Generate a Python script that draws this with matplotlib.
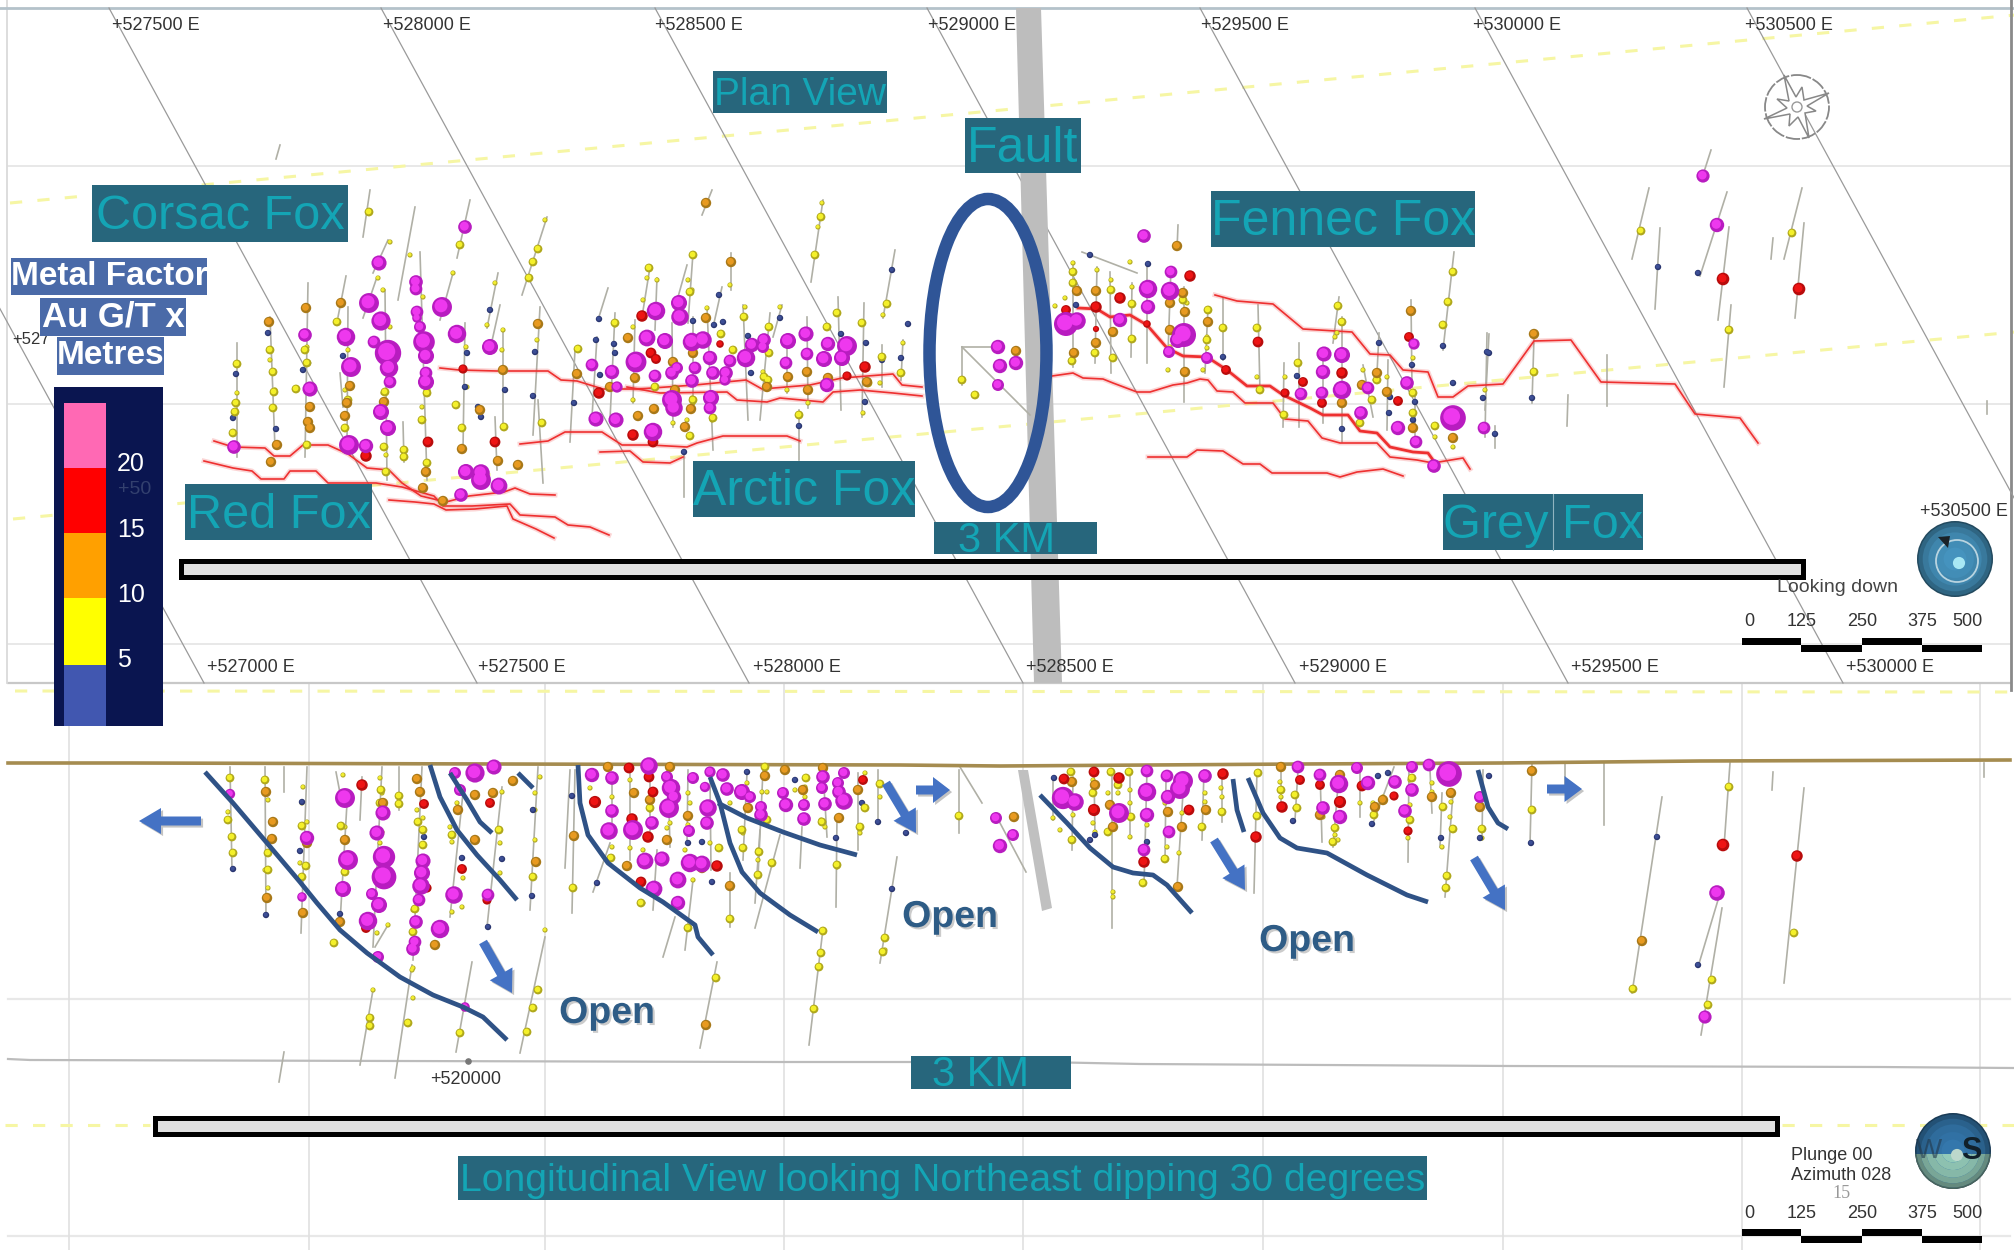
import numpy as np
import matplotlib
matplotlib.use('Agg')
import matplotlib.pyplot as plt
from matplotlib.patches import Rectangle, Ellipse, Polygon, Circle, FancyArrow
import matplotlib.patheffects as pe

plt.rcParams['font.family'] = ['Liberation Sans', 'DejaVu Sans']

# everything in pixels (x to the right, y down)
TEAL_BOX = '#27667c'
TEAL_TXT = '#14a5b5'
CURVE = '#2f5286'
ARROW = '#4472c4'
RED_LINE = '#ee3030'

# --- grid ---
plan_grid_y = [166, 404, 644]
long_grid_y = [999, 1236]
long_grid_x = [69, 309, 545, 784, 1023, 1263, 1503, 1742, 1980]
easting_bottom_x = [-68, 204, 477, 749, 1023, 1295, 1568, 1843, 2115]

top_labels = ['+527500 E', '+528000 E', '+528500 E', '+529000 E', '+529500 E', '+530000 E', '+530500 E']
top_labels_x = [112, 383, 655, 928, 1201, 1473, 1745]
mid_labels = ['+527000 E', '+527500 E', '+528000 E', '+528500 E', '+529000 E', '+529500 E', '+530000 E']
mid_labels_x = [207, 478, 753, 1026, 1299, 1571, 1846]

# --- legend ---
legend_edges = [403, 468, 533, 598, 665, 726]
legend_colors = ['#ff69b4', '#ff0000', '#ffa000', '#ffff00', '#4157b0']
legend_ticks = ['20', '15', '10', '5']
legend_ticks_y = [464, 530, 595, 660]

# --- structures in plan ---
red_lines_west = [
    [(214,441),(233,447),(265,448),(274,456),(290,456),(303,445),(328,445),(348,454),(367,468),(389,470),(402,483),(421,496),(446,502),(469,496),(504,492),(515,488),(530,494),(555,495)],
    [(204,461),(233,468),(252,471),(261,479),(284,479),(290,471),(316,471),(328,483),(376,483),(402,487),(434,496),(443,506),(472,506),(510,504),(520,515),(555,517),(568,525),(590,527),(609,535)],
    [(389,500),(415,502),(434,504),(446,510),(475,509),(507,506),(513,519),(536,529),(554,538)],
    [(440,368),(459,370),(497,371),(548,371),(561,380),(577,381),(603,389),(638,389),(695,385),(746,380),(762,389),(810,385),(842,378),(893,374),(902,385),(922,387)],
    [(627,387),(660,393),(727,392),(737,400),(767,402),(780,398),(823,402),(833,392),(860,390),(893,393),(922,396)],
    [(520,444),(548,441),(565,432),(602,432),(622,445),(650,445),(687,447),(697,443),(723,436),(767,436),(787,436),(800,441)],
    [(600,452),(630,451),(643,462),(670,463),(683,457)],
]
red_lines_east = [
    [(1052,376),(1073,373),(1083,378),(1103,379),(1113,383),(1137,392),(1150,392),(1173,385),(1187,383),(1200,379),(1208,380),(1217,391),(1233,392),(1245,403),(1273,403),(1285,419),(1308,421),(1322,438),(1340,443),(1377,443),(1390,457),(1417,460),(1433,463),(1463,458),(1470,469)],
    [(1215,295),(1237,301),(1273,304),(1303,329),(1352,332),(1370,354),(1390,355),(1403,370),(1428,372),(1438,397),(1453,397),(1468,386),(1503,384),(1534,341),(1571,340),(1601,382),(1675,384),(1695,414),(1740,418),(1758,443)],
    [(1148,457),(1187,457),(1197,450),(1223,451),(1243,464),(1260,464),(1272,473),(1327,473),(1340,477),(1357,472),(1383,469),(1403,476)],
]
red_line_thick = [(1078,308),(1097,309),(1110,317),(1130,315),(1147,325),(1167,348),(1183,356),(1207,357),(1227,370),(1247,386),(1270,386),(1283,395),(1310,408),(1323,415),(1348,415),(1360,431),(1377,433),(1390,447),(1413,452),(1428,453),(1433,460)]

plan_holes = [
    (237,343,237,457),(270,317,275,448),(308,283,305,457),(346,276,338,317),(348,307,347,443),(377,277,363,318),
    (388,240,373,273),(385,290,387,480),(415,207,398,300),(420,252,427,480),(470,200,457,258),(453,273,440,320),
    (465,323,463,450),(498,273,487,328),(500,305,490,350),(503,330,503,430),(547,217,522,295),(540,307,533,435),
    (370,190,363,237),(403,422,404,462),(495,417,497,470),(538,400,543,483),(340,373,343,407),(280,145,276,159),
    (608,288,598,320),(597,337,592,417),(615,313,610,420),(575,350,570,442),(650,267,642,317),(657,278,655,330),
    (635,320,633,403),(687,265,678,297),(693,253,688,323),(672,323,673,427),(693,317,693,403),(707,307,713,450),
    (722,287,714,323),(731,253,731,290),(712,190,702,215),(823,200,811,282),(782,305,773,337),(743,305,748,420),
    (770,313,760,420),(787,337,787,393),(807,317,808,408),(838,297,841,410),(864,303,862,417),(895,250,883,318),
    (882,345,882,387),(903,340,901,380),(684,450,684,497),(799,410,799,460),
    (962,347,995,347),(962,347,962,385),(962,347,1030,415),
    (1073,265,1073,367),(1097,267,1095,363),(1110,272,1111,373),(1132,283,1131,357),(1082,252,1137,273),
    (1147,263,1147,363),(1171,267,1168,353),(1178,225,1177,250),(1184,287,1184,402),(1208,307,1205,373),
    (1223,298,1223,360),(1258,305,1260,393),(1284,363,1283,427),(1299,343,1299,427),(1323,348,1323,423),
    (1339,297,1333,343),(1342,317,1342,442),(1363,365,1373,417),(1379,333,1377,373),(1388,360,1387,430),
    (1411,300,1412,387),(1454,252,1443,350),(1415,390,1415,447),(1487,333,1485,437),(1649,188,1632,259),
    (1660,228,1655,309),(1727,192,1700,276),(1729,227,1718,320),(1731,305,1724,387),(1802,188,1784,259),
    (1804,223,1795,318),(1773,238,1771,259),(1711,150,1703,175),(1534,337,1532,403),(1489,334,1485,410),
    (1495,426,1495,448),(1568,395,1567,426),(1607,355,1607,406),(1987,401,1987,414),
]

# --- intercepts in plan: (x, y, radius) ---
plan_magenta = [
    (465,227,5.7),(379,263,6.3),(416,282,5.7),(416,289,5.3),(369,303,8.3),(442,307,8.3),(417,312,5.3),(417,318,4),(381,321,8),(420,327,5),
    (346,337,7.7),(305,335,5.7),(457,334,7.7),(424,342,9),(374,342,5.3),(388,353,11),(490,347,6.7),(426,356,6.7),(389,368,7.7),(351,367,8.3),
    (426,373,5.3),(426,382,6.7),(390,382,5.3),(310,389,6.3),(381,412,6.7),(388,428,6.7),(234,447,5.7),(349,445,8.3),(366,446,6),(466,472,6.7),
    (481,480,8.3),(481,473,7.3),(499,486,7),(461,495,5.7),
    (656,311,7.7),(679,303,6.7),(680,317,7.3),(647,338,7),(665,341,6.7),(692,342,7.7),(703,340,7.3),(636,362,8.7),(592,365,5.3),(612,372,6),
    (617,387,4.7),(655,376,5.3),(672,373,5.7),(677,368,5),(695,368,5.3),(692,381,5.7),(710,358,6),(713,373,5.7),(730,361,5.3),(726,373,5.7),
    (746,358,7.7),(752,345,6),(764,340,5.7),(763,347,5),(788,341,6.7),(806,334,6.3),(807,354,5.3),(786,363,5.3),(824,359,6.7),(828,344,6),
    (842,358,6.7),(847,346,8.3),(827,385,6),(596,419,6.3),(616,420,6.3),(672,400,8.3),(674,408,7.3),(711,398,6.7),(710,408,5.3),(653,432,7.7),(725,380,4.7),
    (998,347,6),(1000,366,6),(1016,363,6),(998,385,5),
    (1144,236,5.7),(1148,289,7.7),(1148,307,6),(1171,272,5.3),(1170,291,7.7),(1066,324,10),(1077,321,7.3),(1120,320,6),(1184,335,10),(1178,340,6.7),
    (1169,352,5),(1207,358,5),(1324,354,6.3),(1342,355,6.7),(1323,372,6),(1322,393,5.3),(1342,390,7.7),(1368,388,5.3),(1361,413,5.7),(1414,344,4.7),
    (1407,383,5.7),(1453,418,10.7),(1398,428,6),(1416,442,5.3),(1484,428,5.3),(1434,466,5.7),(1301,394,5.3),(1703,176,5.5),(1717,225,6),
]
plan_red = [
    (366,456,5),(428,442,4.7),(495,442,4.7),(463,369,4),
    (642,316,5),(651,353,4.7),(656,359,4.3),(599,393,5),(633,435,5),(653,442,4.7),(865,367,5),(720,344,3.3),(847,376,4),
    (1190,276,5),(1120,298,5),(1096,307,5),(1066,310,4.3),(1258,342,4.7),(1303,382,4.3),(1342,373,5),(1322,403,4.3),(1398,401,4.3),(1409,337,4.3),
    (1285,393,4),(1226,370,4.3),(1147,324,3.3),(1096,329,2.7),(1723,279,5.5),(1799,289,5.5),
]
plan_orange = [
    (306,308),(341,303),(269,322),(538,324),(350,386),(308,422),(310,428),(345,416),(277,445),(271,462),(462,449),(498,461),(518,465),(423,488),
    (443,501),(426,472),(503,370),(384,402),(480,410),(310,407),(347,403),
    (706,203),(731,262),(628,338),(706,318),(638,416),(654,409),(691,409),(577,374),(635,378),(673,362),(693,353),(807,372),(788,377),(808,390),
    (767,387),(685,427),(828,378),(867,382),(675,390),(610,387),(1016,351),
    (1177,246),(1077,291),(1096,291),(1170,303),(1183,293),(1185,312),(1170,330),(1113,332),(1096,343),(1074,353),(1185,372),(1208,322),(1411,311),
    (1377,373),(1387,392),(1413,428),(1453,438),(1342,403),(1362,385),(1534,334),
]
plan_yellow = [
    (369,212),(237,364),(236,403),(235,412),(233,433),(270,350),(273,372),(274,392),(273,408),(305,350),(307,363),(296,389),(337,322),(348,400),
    (345,428),(460,245),(538,249),(533,262),(529,278),(456,405),(462,428),(422,420),(504,427),(384,447),(404,450),(404,457),(386,472),(427,463),
    (385,392),(427,393),(542,423),(307,445),
    (821,217),(815,255),(837,313),(862,323),(882,357),(901,373),(887,304),(713,418),(693,400),(690,436),(655,387),(764,377),(768,380),(799,415),
    (744,317),(769,327),(827,327),(578,349),(721,334),(733,350),(769,353),(868,383),(649,268),(693,255),(690,292),(615,323),(962,380),(975,395),
    (1073,272),(1073,283),(1111,290),(1132,304),(1132,339),(1183,300),(1208,310),(1223,328),(1207,340),(1113,358),(1072,361),(1095,353),(1257,328),
    (1298,363),(1260,390),(1284,415),(1338,306),(1342,322),(1453,272),(1448,302),(1443,325),(1435,426),(1360,423),(1413,393),(1413,413),(1372,400),
    (1377,380),(1641,231),(1792,233),(1729,330),(1534,372),
]
plan_small = [
    (237,393),(234,403),(270,360),(275,390),(307,347),(348,350),(350,388),(345,390),(383,393),(386,455),(428,390),(422,407),(466,347),(467,387),
    (425,473),(427,465),(502,350),(537,340),(453,273),(410,255),(423,297),(390,242),(378,278),(383,290),(390,327),(495,283),(487,325),(503,330),(545,220),
    (647,278),(657,280),(643,300),(633,327),(615,325),(692,290),(688,280),(707,308),(730,285),(818,227),(822,203),(883,315),(903,343),(880,383),
    (780,307),(745,307),(763,372),(766,387),(712,420),(687,420),(692,398),(693,403),(654,387),(633,400),(673,423),(863,413),(808,403),(787,390),
    (1097,270),(1111,280),(1132,287),(1073,263),(1065,298),(1055,306),(1207,337),(1207,348),(1170,347),(1168,370),(1203,370),(1257,377),(1285,377),
    (1337,333),(1338,305),(1335,337),(1363,370),(1375,380),(1387,377),(1413,358),(1435,437),(1453,447),(1485,390),(1360,423),(1112,358),(1130,262),(1187,303),
]
plan_blue = [
    (236,374),(268,333),(276,429),(308,363),(343,356),(303,370),(490,310),(535,352),(533,396),(505,390),(465,387),(467,353),(478,407),(481,417),(233,418),
    (892,270),(599,319),(596,340),(614,344),(615,353),(600,375),(574,403),(719,295),(780,318),(748,336),(751,373),(841,334),(866,343),(882,360),
    (901,358),(908,324),(865,402),(799,426),(684,452),(723,322),(693,321),(714,325),
    (1090,255),(1148,264),(1076,305),(1223,357),(1297,376),(1379,343),(1412,365),(1443,346),(1487,352),(1453,383),(1483,398),(1342,429),(1390,397),
    (1389,413),(1413,420),(1415,402),(1658,267),(1698,273),(1532,398),(1489,353),(1495,434),
]

# --- longitudinal view ---
surface_x = [8, 130, 500, 900, 1000, 1300, 1500, 1700, 2010]
surface_y = [763, 763, 764, 765, 766, 764, 763, 761, 760]
lower_edge_x = [8, 30, 400, 780, 1040, 1140, 1510, 1880, 2013]
lower_edge_y = [1059, 1060, 1061, 1062, 1062, 1064, 1066, 1067, 1068]

long_holes = [
    (230,767,232,870),(265,767,266,917),(284,767,284,792),(307,767,301,933),(336,772,340,793),(347,803,340,923),(362,777,360,820),(382,767,373,947),
    (388,925,375,947),(399,767,399,810),(422,767,413,960),(373,990,360,1065),(412,965,395,1078),(472,962,456,1052),(463,793,450,917),(502,787,487,927),
    (538,767,530,910),(545,937,520,1053),(284,1052,279,1082),(717,962,700,1048),(823,929,809,1045),
    (570,770,565,868),(575,770,572,913),(610,843,593,892),(630,770,630,860),(657,850,653,910),(675,917,663,957),(693,880,685,950),(730,873,730,927),
    (780,835,755,928),(760,830,755,903),(802,827,800,868),(837,817,836,907),(897,857,880,963),(878,770,878,823),(710,777,711,870),(668,773,670,847),
    (688,770,687,843),(747,773,743,860),(763,770,758,877),(823,770,827,837),(858,773,858,850),(612,777,612,827),(650,770,650,833),
    (960,767,982,803),(959,770,959,833),(1000,823,1026,872),
    (1053,777,1053,820),(1073,777,1072,850),(1094,770,1095,837),(1112,770,1112,928),(1130,770,1130,838),(1147,770,1144,885),(1166,780,1165,860),
    (1183,793,1177,887),(1204,770,1202,840),(1222,770,1222,822),(1257,770,1254,893),(1281,770,1281,807),(1298,770,1295,820),(1320,770,1322,842),
    (1339,773,1333,847),(1360,770,1360,817),(1394,767,1373,823),(1409,767,1408,862),(1430,770,1432,813),(1442,793,1440,847),(1453,793,1445,897),
    (1483,770,1482,840),(1730,763,1724,847),(1718,900,1698,967),(1722,908,1701,1035),(1662,797,1632,993),(1804,788,1784,983),(1773,772,1772,790),
    (1565,763,1565,788),(1604,763,1604,825),(1532,763,1530,845),(1984,763,1984,777),
]
long_magenta = [
    (230,794,4.3),(345,798,8.3),(383,813,6.3),(377,833,6.3),(307,838,6),(348,860,8.3),(384,857,9.3),(384,877,10.3),(343,889,6.7),(372,894,5),
    (379,905,6.7),(368,921,7.7),(423,861,6.3),(422,873,6.7),(421,886,7.3),(419,900,5.3),(416,922,5.7),(415,942,5.3),(413,949,5.7),(440,929,7.7),
    (454,895,7.3),(488,895,5.3),(475,773,8),(494,767,6.3),(455,773,5),(460,790,5),(378,957,5),(465,1007,4),(302,897,4),
    (592,775,6),(612,778,5.7),(649,766,7.3),(667,777,5),(671,788,7.7),(674,797,6),(669,808,8.3),(693,778,5),(705,787,4.3),(710,772,4.7),(723,775,5.7),
    (727,789,5.7),(708,808,7.3),(707,823,5.7),(612,811,5.7),(609,831,7.3),(633,830,8.3),(652,823,5.7),(689,831,5),(645,861,7),(662,859,6.3),(690,863,7.7),
    (702,864,7),(678,880,7),(654,889,7),(678,903,6),(742,792,6.7),(750,797,5),(761,807,5),(761,815,5.7),(783,793,5),(786,805,6),(804,805,5),(804,819,5.7),
    (823,777,5.7),(822,788,5),(825,804,5.7),(838,783,5),(839,792,5.7),(844,801,7.3),(844,773,5),
    (1000,846,6),(1013,835,5),(996,818,5),
    (1063,798,9.3),(1075,802,7.3),(1119,813,8.3),(1147,792,7.7),(1147,815,6),(1147,771,5.3),(1167,776,5.3),(1183,781,8.3),(1180,789,8.3),(1168,797,6),
    (1169,832,5.3),(1205,776,5.7),(1144,850,5.3),(1298,767,5.3),(1320,775,5.3),(1339,784,7.7),(1323,808,5.7),(1340,817,6),(1368,783,6),(1357,768,5),
    (1395,782,5.7),(1405,811,5.7),(1412,767,5),(1429,765,5.3),(1449,774,10.7),(1412,790,5.7),(1480,797,5),(1717,893,6.5),(1705,1017,5.5),
]
long_red = [
    (362,785,5),(424,804,4.3),(490,803,4.3),(462,869,4.3),(383,857,6),(385,865,3.3),(366,928,4.3),(427,888,4),(418,900,4),(487,900,4),
    (629,768,4.7),(649,777,4.7),(595,802,5.3),(653,792,4.7),(632,819,5),(648,837,5),(717,866,5),(641,882,4.7),(863,780,4.3),
    (1064,779,4.7),(1094,772,4.7),(1119,778,5),(1094,810,5.3),(1189,810,4.7),(1144,862,5),(1223,774,5),(1256,837,5),(1282,807,5),(1300,780,4.3),
    (1320,785,4.3),(1340,802,5.3),(1362,786,4.7),(1394,796,4),(1408,831,4),(1723,845,5.5),(1797,856,5),
]
long_orange = [
    (266,792),(273,822),(272,839),(307,843),(267,898),(303,913),(340,922),(345,840),(383,803),(417,779),(420,792),(475,840),(475,795),(493,793),
    (513,781),(458,810),(536,862),(435,945),
    (574,836),(730,886),(627,866),(706,1025),(634,793),(667,840),(688,816),(785,770),(650,800),(748,808),(803,790),(858,790),(839,818),(702,868),
    (765,776),(823,768),(608,767),(670,767),(1014,817),
    (1072,782),(1095,785),(1110,805),(1168,812),(1182,827),(1206,810),(1178,887),(1281,767),(1340,775),(1320,815),(1375,807),(1383,800),(1432,797),
    (1451,793),(1480,807),(1113,827),(1642,941),(1532,771),
]
long_yellow = [
    (230,778),(228,820),(232,837),(233,853),(265,780),(268,853),(268,870),(302,826),(306,866),(302,877),(334,943),(341,826),(345,872),(381,790),
    (399,796),(399,804),(418,822),(423,830),(423,845),(452,835),(499,830),(533,877),(415,909),(413,932),(370,1018),(370,1026),(460,1033),(538,990),
    (533,1008),(527,1032),(408,1023),(380,803),
    (611,858),(719,848),(743,848),(821,953),(814,1009),(823,931),(880,784),(865,808),(860,827),(742,830),(759,852),(822,822),(767,820),(765,767),
    (806,778),(650,808),(641,903),(688,928),(885,938),(573,888),(730,919),(758,875),(772,863),(716,978),(819,967),(837,865),(883,952),(959,816),
    (1071,772),(1072,840),(1111,772),(1129,772),(1118,785),(1108,832),(1131,817),(1165,859),(1202,827),(1222,812),(1258,773),(1257,816),(1281,790),
    (1297,808),(1295,795),(1335,828),(1333,842),(1374,815),(1410,820),(1443,807),(1453,829),(1482,829),(1447,876),(1446,888),(1412,778),(1143,883),
    (1093,793),(1633,989),(1794,933),(1729,787),(1708,1005),(1712,980),(1532,810),
]
long_small = [
    (228,812),(268,800),(268,870),(268,888),(265,870),(303,787),(302,803),(307,822),(300,863),(343,775),(342,857),(345,827),(380,778),(382,793),
    (382,832),(380,843),(417,810),(420,793),(423,818),(413,910),(413,968),(413,998),(412,970),(373,990),(452,842),(452,912),(462,907),(463,878),
    (457,803),(500,843),(502,792),(500,873),(535,793),(535,810),(540,777),(535,840),(545,930),(450,827),(377,933),(388,925),(363,920),
    (590,788),(612,797),(630,848),(630,780),(650,810),(650,800),(667,828),(670,823),(688,793),(690,803),(688,825),(685,850),(693,880),(710,843),
    (730,803),(747,783),(748,793),(743,833),(758,850),(758,860),(758,875),(767,792),(762,792),(767,818),(795,790),(805,787),(805,797),(821,820),
    (825,827),(837,867),(860,827),(860,833),(865,773),(880,797),(715,978),(885,950),(688,833),(612,847),(643,903),(643,850),
    (1053,818),(1060,830),(1072,780),(1073,815),(1093,780),(1093,793),(1093,823),(1095,832),(1108,793),(1118,793),(1130,790),(1130,803),(1130,837),
    (1147,825),(1147,842),(1165,803),(1167,847),(1182,813),(1179,853),(1205,793),(1205,802),(1222,797),(1221,788),(1280,782),(1281,797),(1295,808),
    (1335,835),(1338,840),(1323,817),(1360,803),(1373,803),(1383,797),(1410,780),(1410,805),(1408,838),(1432,783),(1432,792),(1451,802),(1450,817),
    (1442,847),(1482,838),(1113,892),(1113,897),(1143,884),
]
long_blue = [
    (233,869),(266,915),(300,851),(340,914),(488,927),(502,859),(462,858),(532,896),(302,802),(424,837),(533,810),
    (572,796),(597,883),(712,882),(892,889),(878,822),(702,842),(747,772),(795,780),(836,838),(862,803),(688,843),(906,833),
    (1054,778),(1293,821),(1372,824),(1388,773),(1378,776),(1441,838),(1489,776),(1090,840),(1095,835),(1480,838),(1147,842),
    (1657,837),(1698,965),(1531,843),
]

open_curves = [
    [(205,772),(233,803),(267,843),(300,882),(317,903),(340,930),(367,953),(400,977),(433,995),(463,1007),(483,1017),(507,1040)],
    [(430,765),(440,797),(457,830),(477,855),(500,880),(517,900)],
    [(450,773),(467,800),(480,822),(492,833)],
    [(518,773),(533,788)],
    [(578,765),(580,803),(588,835),(608,863),(640,888),(663,902),(695,925),(698,937),(713,955)],
    [(710,777),(720,803),(730,843),(742,872),(760,893),(790,915),(818,932)],
    [(718,803),(747,818),(783,832),(820,845),(857,855)],
    [(1040,795),(1067,823),(1090,848),(1113,867),(1133,873),(1153,875),(1167,885),(1192,913)],
    [(1233,779),(1237,810),(1244,832)],
    [(1248,778),(1263,813),(1280,838),(1297,848),(1327,853),(1367,875),(1407,895),(1428,902)],
    [(1478,770),(1488,807),(1498,823),(1508,829)],
]
open_arrows = [
    (201,821,139,821),(916,790,950,790),(483,942,512,993),(886,783,916,833),
    (1214,840,1245,890),(1474,858,1505,910),(1547,789,1582,789),
]
open_labels_x = [607, 950, 1307]
open_labels_y = [1013, 917, 941]

# label, box (x0, x1, y0, y1), font size, text shift from the box centre
teal_labels = [
    ('Corsac Fox', (92, 348, 185, 242), 35, 0),
    ('Red Fox', (185, 372, 484, 540), 35, 0),
    ('Arctic Fox', (693, 915, 461, 517), 36, 0),
    ('Fennec Fox', (1211, 1475, 191, 247), 36, 0),
    ('Grey Fox', (1443, 1643, 494, 550), 35, 0),
    ('Plan View', (713, 887, 71, 113), 28, 0),
    ('Fault', (965, 1081, 118, 173), 36, 0),
    ('3 KM', (934, 1097, 522, 554), 30, -9),
    ('3 KM', (911, 1071, 1056, 1089), 30, -10),
    ('Longitudinal View looking Northeast dipping 30 degrees', (458, 1427, 1156, 1200), 28.2, 0),
]
metal_labels = [
    ('Metal Factor', (11, 207, 258, 295), 24),
    ('Au G/T x', (40, 186, 298, 336), 25),
    ('Metres', (57, 164, 337, 375), 24),
]

scale_ticks = ['0', '125', '250', '375', '500']
scale_ticks_x = [1749, 1802, 1862, 1922, 1967]
scale_edges = [1742, 1801, 1862, 1922, 1982]

rose_big = [(1784,75),(1829,93),(1809,138),(1764,119)]
rose_small = [(1802,87),(1816,111),(1789,126),(1777,99)]
rose_inner = [(1796,97),(1804,100),(1807,106),(1805,113),(1798,117),(1790,114),(1787,108),(1789,101)]


def px(r):
    return r * 0.72


def bubbles(ax, pts, base, light, radius=None, scale=1.0, z=5):
    a = np.array(pts, dtype=float)
    r = (a[:, 2] if radius is None else np.full(len(a), radius)) * scale
    ax.scatter(a[:, 0], a[:, 1], s=(2 * px(r)) ** 2, c=base, linewidths=0, zorder=z)
    ax.scatter(a[:, 0] - r * 0.1, a[:, 1] - r * 0.12, s=(1.3 * px(r)) ** 2, c=light, linewidths=0, zorder=z)


def draw_all_bubbles(ax, magenta, red, orange, yellow, small, blue):
    bubbles(ax, small, '#b4ac28', '#f2ee30', radius=2.6)
    bubbles(ax, blue, '#2a3670', '#3d4f96', radius=3.2)
    bubbles(ax, yellow, '#b0a81c', '#f4f02a', radius=4.4)
    bubbles(ax, orange, '#a87818', '#e89a20', radius=5.2)
    bubbles(ax, red, '#b80c0c', '#ee1414', scale=1.15)
    bubbles(ax, magenta, '#b81cc0', '#ee38ee', scale=1.2)


def ball(ax, cx, cy, r, top, bottom, spot):
    # shaded sphere from concentric discs, the colour picked per half by a clip rectangle
    for frac, mix in zip([1.0, 0.96, 0.85, 0.7, 0.5, 0.3], [0.55, 0.75, 0.9, 1.0, 1.05, 1.1]):
        col_top = np.clip(np.array(matplotlib.colors.to_rgb(top)) * mix, 0, 1)
        col_bot = np.clip(np.array(matplotlib.colors.to_rgb(bottom)) * mix, 0, 1)
        c1 = Circle((cx, cy), r * frac, fc=col_top, ec='none', zorder=8)
        ax.add_patch(c1)
        if bottom != top:
            c2 = Circle((cx, cy), r * frac, fc=col_bot, ec='none', zorder=8)
            ax.add_patch(c2)
            c2.set_clip_path(Rectangle((cx - r, cy + 3), 2 * r, r, transform=ax.transData))
    ax.add_patch(Circle((cx + 4, cy + 4), r * 0.16, fc=spot, ec='none', zorder=8))


fig = plt.figure(figsize=(20.15, 12.5), dpi=100, facecolor='white')
ax = fig.add_axes([0, 0, 1, 1])
ax.set_xlim(0, 2015)
ax.set_ylim(1250, 0)
ax.axis('off')

# frame and grid
for y in plan_grid_y:
    ax.plot([8, 2010], [y, y], color='#e6e6e6', lw=1.3, zorder=1)
for y in long_grid_y:
    ax.plot([8, 2010], [y, y], color='#e8e8e8', lw=1.6, zorder=1)
for x in long_grid_x:
    ax.plot([x, x], [683, 1250], color='#e0e0e0', lw=1.2, zorder=1)
ax.plot([8, 2010], [683, 683], color='#c8c8c8', lw=1.6, zorder=2)
ax.plot([7, 7], [0, 683], color='#dadada', lw=1.3, zorder=2)
ax.plot([0, 2015], [8, 8], color='#b4c2ca', lw=2, zorder=2)
ax.plot([2011, 2011], [0, 690], color='#8a8a8a', lw=2, zorder=2)

# yellow dashes
dash = dict(color='#f6f6a4', lw=2.2, ls=(0, (4, 5)), zorder=1)
ax.plot([10, 2015], [203, 15], **dash)
ax.plot([13, 2015], [519, 332], **dash)
ax.plot([15, 2010], [691, 692], **dash)
ax.plot([5, 150], [1125, 1125], **dash)
ax.plot([1782, 2015], [1125, 1125], **dash)

# easting lines
for xb in easting_bottom_x:
    ax.plot([xb - 368, xb], [8, 683], color='#9a9a9a', lw=0.9, zorder=2)

# fault band
ax.add_patch(Polygon([(1016,8),(1041,8),(1062,683),(1034,683)], fc='#bdbdbd', ec='none', zorder=2))
ax.add_patch(Polygon([(1018,770),(1028,770),(1052,908),(1042,911)], fc='#c0c0c0', ec='none', zorder=2))

# plan and longitudinal traces
for x1, y1, x2, y2 in plan_holes + long_holes:
    ax.plot([x1, x2], [y1, y2], color='#b0b0a6', lw=1.2, zorder=3)

# surface and base
ax.plot(surface_x, surface_y, color='#a58c50', lw=2.6, zorder=4)
ax.plot(lower_edge_x, lower_edge_y, color='#bcbcbc', lw=1.6, zorder=2)

# red workings
for line in red_lines_west + red_lines_east + [red_line_thick]:
    a = np.array(line)
    ax.plot(a[:, 0], a[:, 1], color=RED_LINE, lw=3.5, alpha=0.2, zorder=4)
for line in red_lines_west + red_lines_east:
    a = np.array(line)
    ax.plot(a[:, 0], a[:, 1], color=RED_LINE, lw=1.2, zorder=4)
a = np.array(red_line_thick)
ax.plot(a[:, 0], a[:, 1], color=RED_LINE, lw=2.0, zorder=4)

draw_all_bubbles(ax, plan_magenta, plan_red, plan_orange, plan_yellow, plan_small, plan_blue)
draw_all_bubbles(ax, long_magenta, long_red, long_orange, long_yellow, long_small, long_blue)

# open curves and arrows
for c in open_curves:
    a = np.array(c)
    ax.plot(a[:, 0], a[:, 1], color=CURVE, lw=3.4, solid_capstyle='butt', zorder=7)
for x1, y1, x2, y2 in open_arrows:
    ar = FancyArrow(x1, y1, x2 - x1, y2 - y1, width=9, head_width=26, head_length=min(22, 0.5 * np.hypot(x2 - x1, y2 - y1)),
                    length_includes_head=True, fc=ARROW, ec='none', zorder=7)
    ar.set_path_effects([pe.SimplePatchShadow(offset=(1.5, -1.5), alpha=0.35, shadow_rgbFace='#555555'), pe.Normal()])
    ax.add_patch(ar)
for x, y in zip(open_labels_x, open_labels_y):
    ax.text(x, y, 'Open', color='#2e5c86', fontsize=27, fontweight='bold', ha='center', va='center', zorder=7,
            path_effects=[pe.withSimplePatchShadow(offset=(1.5, -1.5), alpha=0.3, shadow_rgbFace='#555555')])

# ellipse and 3 km bars
ax.add_patch(Ellipse((988, 353), 117, 308, fc='none', ec='#2f5597', lw=9, zorder=6))
ax.add_patch(Rectangle((181, 561), 1622, 16, fc='#e0e0e0', ec='black', lw=3.6, zorder=6))
ax.add_patch(Rectangle((155, 1118), 1622, 16, fc='#e0e0e0', ec='black', lw=3.6, zorder=6))

# teal labels
for txt, (x0, x1, y0, y1), fs, dx in teal_labels:
    ax.add_patch(Rectangle((x0, y0), x1 - x0, y1 - y0, fc=TEAL_BOX, ec='none', zorder=6))
    ax.text((x0 + x1) / 2 + dx, (y0 + y1) / 2 + 3, txt, color=TEAL_TXT, fontsize=fs, ha='center', va='center', zorder=7)
ax.plot([1553, 1553], [494, 550], color='#8fb4c0', lw=0.8, zorder=7)

# colour legend
ax.add_patch(Rectangle((54, 387), 109, 339, fc='#0a1550', ec='none', zorder=6))
ax.bar([85] * 5, np.diff(legend_edges), width=42, bottom=legend_edges[:-1], color=legend_colors, zorder=7)
for t, y in zip(legend_ticks, legend_ticks_y):
    ax.text(117, y, t, color='white', fontsize=18, ha='left', va='center', zorder=7)
ax.text(118, 489, '+50', color='#33406e', fontsize=14, ha='left', va='center', zorder=7)

for txt, (x0, x1, y0, y1), fs in metal_labels:
    ax.add_patch(Rectangle((x0, y0), x1 - x0, y1 - y0, fc='#4a6aa8', ec='none', zorder=6))
    ax.text((x0 + x1) / 2, (y0 + y1) / 2, txt, color='white', fontsize=fs, fontweight='bold', ha='center', va='center', zorder=7)

# coordinate labels
lab = dict(color='#333333', fontsize=13, ha='left', va='center', zorder=5)
for t, x in zip(top_labels, top_labels_x):
    ax.text(x, 25, t, **lab)
for t, x in zip(mid_labels, mid_labels_x):
    ax.text(x, 667, t, **lab)
ax.text(1920, 512, '+530500 E', **lab)
ax.text(12, 340, '+527', **{**lab, 'fontsize': 12})
ax.text(430, 1080, '+520000', **lab)
ax.scatter([468], [1061], s=14, c='#777777', zorder=5)

# scale bars
for base_y in [638, 1229]:
    for i in range(4):
        off = 7 if i % 2 else 0
        ax.add_patch(Rectangle((scale_edges[i], base_y + off), scale_edges[i + 1] - scale_edges[i], 7, fc='black', ec='none', zorder=8))
for y in [621, 1213]:
    for t, x in zip(scale_ticks, scale_ticks_x):
        ax.text(x, y, t, color='#333333', fontsize=13, ha='center', va='center', zorder=8)

ax.text(1777, 587, 'Looking down', color='#444444', fontsize=14, ha='left', va='center', zorder=8)
ax.text(1791, 1155, 'Plunge 00', color='#333333', fontsize=13, ha='left', va='center', zorder=8)
ax.text(1791, 1176, 'Azimuth 028', color='#333333', fontsize=13, ha='left', va='center', zorder=8)
ax.text(1841, 1194, '15', color='#999999', fontsize=13, family='Liberation Serif', ha='center', va='center', zorder=8)

# view balls
ball(ax, 1955, 559, 38, '#3f86ad', '#3f86ad', '#a8e8f4')
ax.add_patch(Circle((1957, 561), 21, fc='none', ec='#b8d4e0', lw=1.3, zorder=8))
ax.add_patch(Polygon([(1938,537),(1950,536),(1948,548)], fc='#1a2228', ec='none', zorder=9))
ball(ax, 1953, 1151, 38, '#2f6c9c', '#86b8a8', '#bcd8cc')
ax.text(1971, 1151, 'S', color='#11202a', fontsize=22, fontweight='bold', ha='center', va='center', zorder=9)
ax.text(1929, 1151, 'W', color='#22384a', fontsize=20, ha='center', va='center', alpha=0.6, zorder=9)

# compass rose
ax.add_patch(Circle((1797, 107), 32, fc='none', ec='#888888', lw=1.3, ls=(0, (8, 1)), zorder=3))
rose = []
for b, i1, s, i2 in zip(rose_big, rose_inner[0::2], rose_small, rose_inner[1::2]):
    rose += [b, i1, s, i2]
ax.add_patch(Polygon(rose, fc='white', ec='#888888', lw=1.1, zorder=3))
ax.add_patch(Circle((1797, 107), 5, fc='none', ec='#999999', lw=1, zorder=3))

fig.savefig('out.png', dpi=100, facecolor='white')
